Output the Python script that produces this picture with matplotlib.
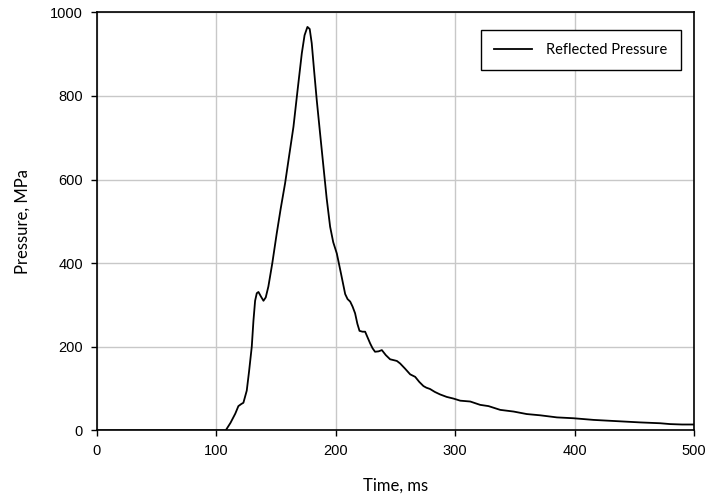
import matplotlib
matplotlib.use("Agg")
import matplotlib.pyplot as plt

# values
time_ms = [0, 108, 112, 116, 118.6, 121, 122.8, 125.6, 127.5, 129.8, 131.2,
           132.6, 134, 135.4, 137.5, 139.6, 141.5, 143.7, 147, 150.7, 154,
           157.7, 161, 164.7, 168, 171.7, 174, 176.4, 178.3, 180, 182, 184.2,
           187, 189.8, 192.5, 195.4, 198, 201, 204.5, 208, 210, 212.2, 214.2,
           216.3, 218.2, 220, 222.5, 224.7, 226.8, 228.9, 231, 233, 236,
           238.7, 242, 245.6, 248.5, 251.3, 254, 258, 262.4, 266.6, 270,
           273.5, 276, 279, 283, 287.4, 293, 298.7, 304.3, 312.7, 321, 328,
           337.8, 349, 360, 371.3, 385.3, 399, 416, 435.5, 455, 471.8, 480,
           490, 500]
pressure_mpa = [0, 0, 18, 40, 58, 63, 66, 95, 140, 200, 262,
                310, 328, 331, 320, 310, 318, 344, 400, 471, 530,
                591, 655, 726, 810, 902, 945, 965, 960, 926, 860, 790,
                710, 631, 555, 487, 450, 423, 375, 326, 314, 308, 296,
                280, 255, 238, 236, 236, 222, 208, 196, 188, 189,
                192, 180, 170, 168, 166, 160, 148, 134, 128, 116,
                106, 102, 99, 92, 86, 80, 76, 71, 69, 61, 58,
                49, 45, 39, 36, 31, 29, 25, 22, 19, 17, 15,
                14, 14]

x_ticks = [0, 100, 200, 300, 400, 500]
y_ticks = [0, 200, 400, 600, 800, 1000]

fig = plt.figure(figsize=(7.08, 5.01), dpi=100)
ax = fig.add_axes([0.1366, 0.141, 0.8436, 0.8345])

ax.plot(time_ms, pressure_mpa, color='black', linewidth=1.3,
        label='Reflected Pressure')

ax.set_xlim(0, 500)
ax.set_ylim(0, 1000)
ax.set_xticks(x_ticks)
ax.set_yticks(y_ticks)
ax.grid(True, color='#c8c8c8', linewidth=1.0)
ax.set_axisbelow(True)
for sp in ax.spines.values():
    sp.set_linewidth(1.2)
    sp.set_color('black')
ax.tick_params(direction='out', length=4, width=1.0, color='black',
               labelsize=10.5, pad=6)
for lbl in ax.get_xticklabels() + ax.get_yticklabels():
    lbl.set_family('Liberation Sans')

ax.set_xlabel('Time, ms', fontsize=12, family='Lato', labelpad=14)
ax.set_ylabel('Pressure, MPa', fontsize=12, family='Lato', labelpad=14)

leg = ax.legend(loc='upper right', bbox_to_anchor=(0.978, 0.958),
                borderaxespad=0, fancybox=False, edgecolor='black',
                framealpha=1, prop={'family': 'Lato', 'size': 10.5},
                handlelength=2.6, borderpad=0.9, handletextpad=1.0)
leg.get_frame().set_linewidth(1.0)

fig.savefig('out.png', dpi=100)
